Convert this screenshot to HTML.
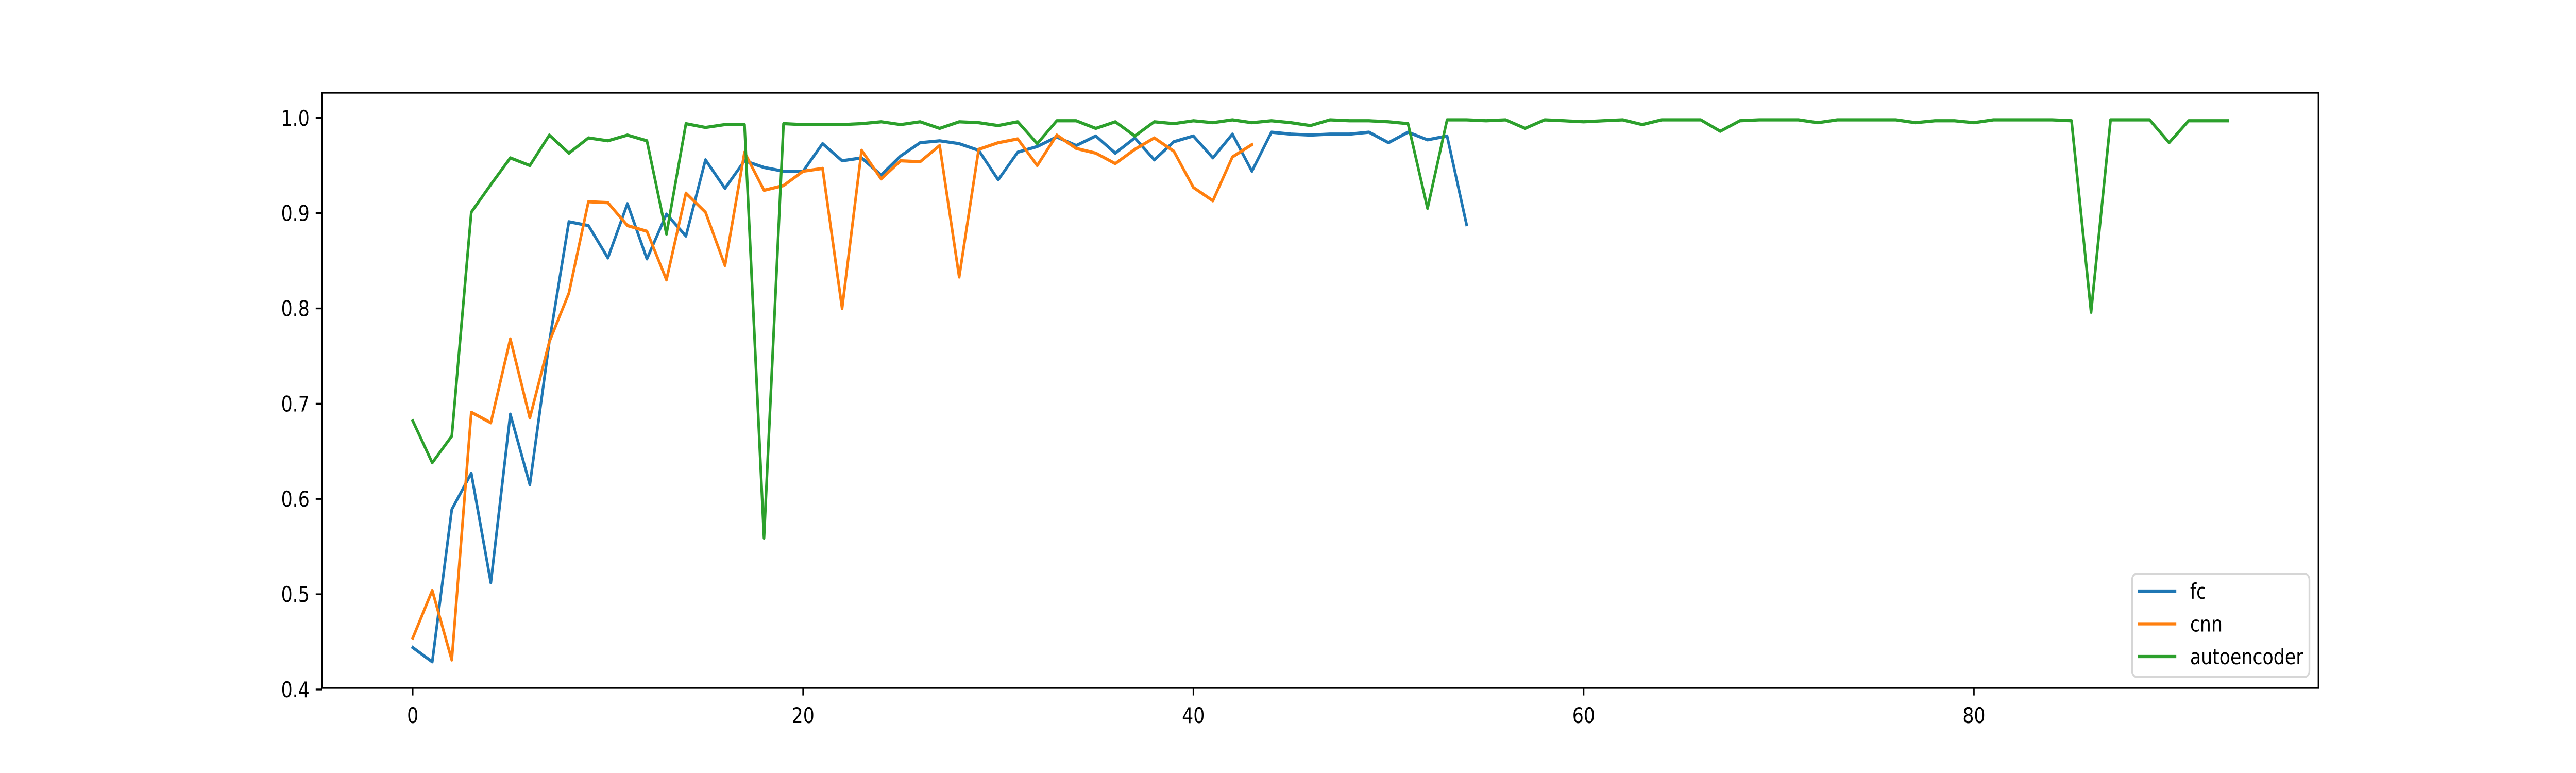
<!DOCTYPE html>
<html><head><meta charset="utf-8"><style>
html,body{margin:0;padding:0;background:#fff;width:100%;height:100%;overflow:hidden}
svg{display:block;width:100vw;height:100vh}
text{font-family:"DejaVu Sans","Liberation Sans",sans-serif;font-size:41.7px;fill:#000}
</style></head><body>
<svg id="chart" viewBox="0 0 6000 1500" preserveAspectRatio="none" xmlns="http://www.w3.org/2000/svg">
<rect x="0" y="0" width="6000" height="1500" fill="#fff"/>
<g id="lines"></g>
<g id="axes"></g>
<g id="legend"></g>
</svg>
<script>
const fcValues=[0.444,0.429,0.589,0.627,0.512,0.689,0.615,0.765,0.891,0.887,0.853,0.910,0.852,0.899,0.876,0.956,0.926,0.955,0.948,0.944,0.944,0.973,0.955,0.958,0.940,0.960,0.974,0.976,0.973,0.966,0.935,0.964,0.970,0.980,0.971,0.981,0.963,0.979,0.956,0.975,0.981,0.958,0.983,0.944,0.985,0.983,0.982,0.983,0.983,0.985,0.974,0.985,0.977,0.981,0.888];
const cnnValues=[0.454,0.504,0.431,0.691,0.680,0.768,0.685,0.765,0.816,0.912,0.911,0.887,0.881,0.830,0.921,0.901,0.845,0.964,0.924,0.929,0.944,0.947,0.800,0.966,0.936,0.955,0.954,0.971,0.833,0.967,0.974,0.978,0.950,0.982,0.968,0.963,0.952,0.967,0.979,0.965,0.927,0.913,0.959,0.972];
const aeValues=[0.682,0.638,0.666,0.901,0.930,0.958,0.950,0.982,0.963,0.979,0.976,0.982,0.976,0.878,0.994,0.990,0.993,0.993,0.559,0.994,0.993,0.993,0.993,0.994,0.996,0.993,0.996,0.989,0.996,0.995,0.992,0.996,0.973,0.997,0.997,0.989,0.996,0.981,0.996,0.994,0.997,0.995,0.998,0.995,0.997,0.995,0.992,0.998,0.997,0.997,0.996,0.994,0.905,0.998,0.998,0.997,0.998,0.989,0.998,0.997,0.996,0.997,0.998,0.993,0.998,0.998,0.998,0.986,0.997,0.998,0.998,0.998,0.995,0.998,0.998,0.998,0.998,0.995,0.997,0.997,0.995,0.998,0.998,0.998,0.998,0.997,0.796,0.998,0.998,0.998,0.974,0.997,0.997,0.997];
const xTicks=[0,20,40,60,80];
const yTicks=[0.4,0.5,0.6,0.7,0.8,0.9,1.0];
const yTickLabels=["0.4","0.5","0.6","0.7","0.8","0.9","1.0"];
const seriesNames=["fc","cnn","autoencoder"];

const NS="http://www.w3.org/2000/svg";
const L=750,R=5400,T=180,B=1335;
const xMin=-4.65,xMax=97.65,yMin=0.4016,yMax=1.0264;
const xs=v=>L+(v-xMin)/(xMax-xMin)*(R-L);
const ys=v=>B-(v-yMin)/(yMax-yMin)*(B-T);
function mk(tag,attrs,parent){const e=document.createElementNS(NS,tag);for(const k in attrs)e.setAttribute(k,attrs[k]);parent.appendChild(e);return e;}
const colors=["#1f77b4","#ff7f0e","#2ca02c"];
const allSeries=[fcValues,cnnValues,aeValues];
const lg=document.getElementById('lines');
allSeries.forEach((vals,si)=>{
  const pts=vals.map((v,i)=>xs(i).toFixed(1)+","+ys(v).toFixed(1)).join(" ");
  const p=mk('polyline',{points:pts,fill:'none',stroke:colors[si],'stroke-width':6.25,'stroke-linejoin':'round','stroke-linecap':'square'},lg);
  
  
});
const ax=document.getElementById('axes');
const frame=mk('rect',{x:L,y:T,width:R-L,height:B-T,fill:'none',stroke:'#000','stroke-width':3.33},ax);


xTicks.forEach(t=>{
  const x=xs(t);
  const tk=mk('line',{x1:x,y1:B,x2:x,y2:B+14.6,stroke:'#000','stroke-width':3.33},ax);
  
  
  const tx=mk('text',{x:x,y:B+29+39,'text-anchor':'middle'},ax);
  tx.textContent=String(t);
  
  
});
yTicks.forEach((t,i)=>{
  const y=ys(t);
  const tk=mk('line',{x1:L-14.6,y1:y,x2:L,y2:y,stroke:'#000','stroke-width':3.33},ax);
  
  
  const tx=mk('text',{x:L-29,y:y+15,'text-anchor':'end'},ax);
  tx.textContent=yTickLabels[i];
  
  
});
const leg=document.getElementById('legend');
const box=mk('rect',{x:4966,y:1113,width:413,height:201,rx:12,ry:12,fill:'#fff','fill-opacity':0.8,stroke:'#d6d6d6','stroke-width':4},leg);


seriesNames.forEach((n,i)=>{
  const y=1147+i*63.5;
  const ln=mk('line',{x1:4980,y1:y,x2:5069,y2:y,stroke:colors[i],'stroke-width':6.25},leg);
  
  
  const tx=mk('text',{x:5101,y:y+15},leg);
  tx.textContent=n;
  
  
});
</script>
</body></html>
